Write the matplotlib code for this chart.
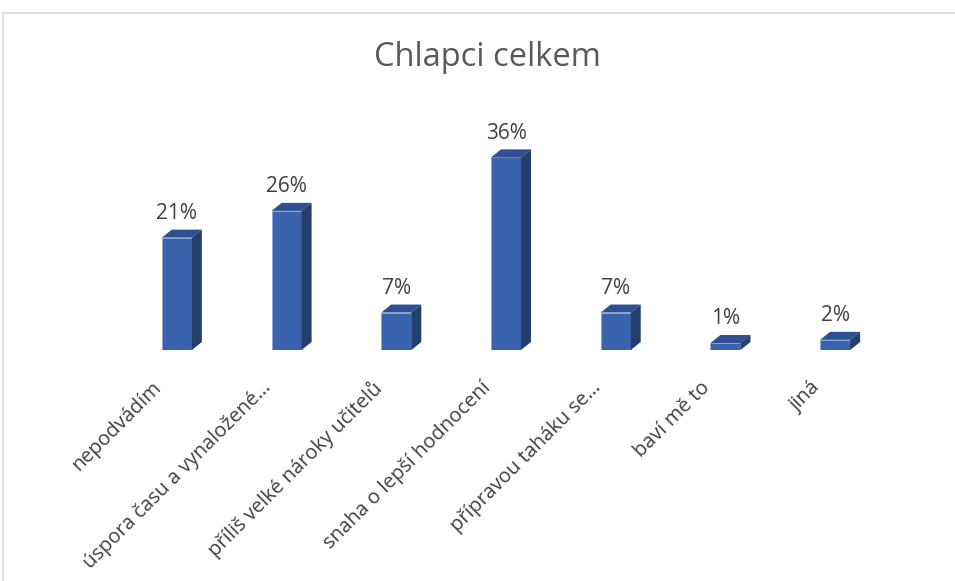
import matplotlib.pyplot as plt
from matplotlib.patches import Polygon, Rectangle

categories = ['nepodvádím', 'úspora času a vynaložené…', 'příliš velké nároky učitelů',
              'snaha o lepší hodnocení', 'přípravou taháku se…', 'baví mě to', 'jiná']
values = [21, 26, 7, 36, 7, 1.3, 1.9]
labels = ['21%', '26%', '7%', '36%', '7%', '1%', '2%']

plt.rcParams['font.family'] = ['Open Sans', 'DejaVu Sans']

fig = plt.figure(figsize=(9.55, 5.81), dpi=100)
ax = fig.add_axes([122 / 955, 231 / 581, 768 / 955, 214 / 581])

front = '#3a63ae'
top = '#2e5090'
side = '#243f6e'
width = 0.274
dx = 0.091   # depth offset in x (data units)
dy = 1.5     # depth offset in y (data units)

x = range(len(values))
ax.bar(x, values, width=width, color=front, edgecolor='#8ea4cf', linewidth=0.6, zorder=3)
for i, v in zip(x, values):
    l, r = i - width / 2, i + width / 2
    ax.add_patch(Polygon([(l, v), (r, v), (r + dx, v + dy), (l + dx, v + dy)],
                         closed=True, facecolor=top, edgecolor='none', zorder=3))
    ax.add_patch(Polygon([(r, 0), (r + dx, dy), (r + dx, v + dy), (r, v)],
                         closed=True, facecolor=side, edgecolor='none', zorder=3))
    ax.annotate(labels[i], (i, v), xytext=(0, 17.5), textcoords='offset points',
                ha='center', va='center', fontsize=15, color='#404040')
    ax.annotate(categories[i], (i, 0), xytext=(-18, -20), textcoords='offset points',
                ha='right', va='top', rotation=45, rotation_mode='anchor',
                fontsize=14.5, color='#404040')

ax.set_xlim(-0.5, 6.5)
ax.set_ylim(0, 40)
ax.axis('off')

fig.text(487 / 955, 1 - 58 / 581, 'Chlapci celkem', ha='center', va='center',
         fontsize=23.5, color='#595959')
fig.patches.append(Rectangle((3 / 955, -0.05), 1.0, 1 - 13 / 581 + 0.05,
                             transform=fig.transFigure, fill=False,
                             edgecolor='#d9d9d9', linewidth=1.2))

fig.savefig('out.png', dpi=100)
